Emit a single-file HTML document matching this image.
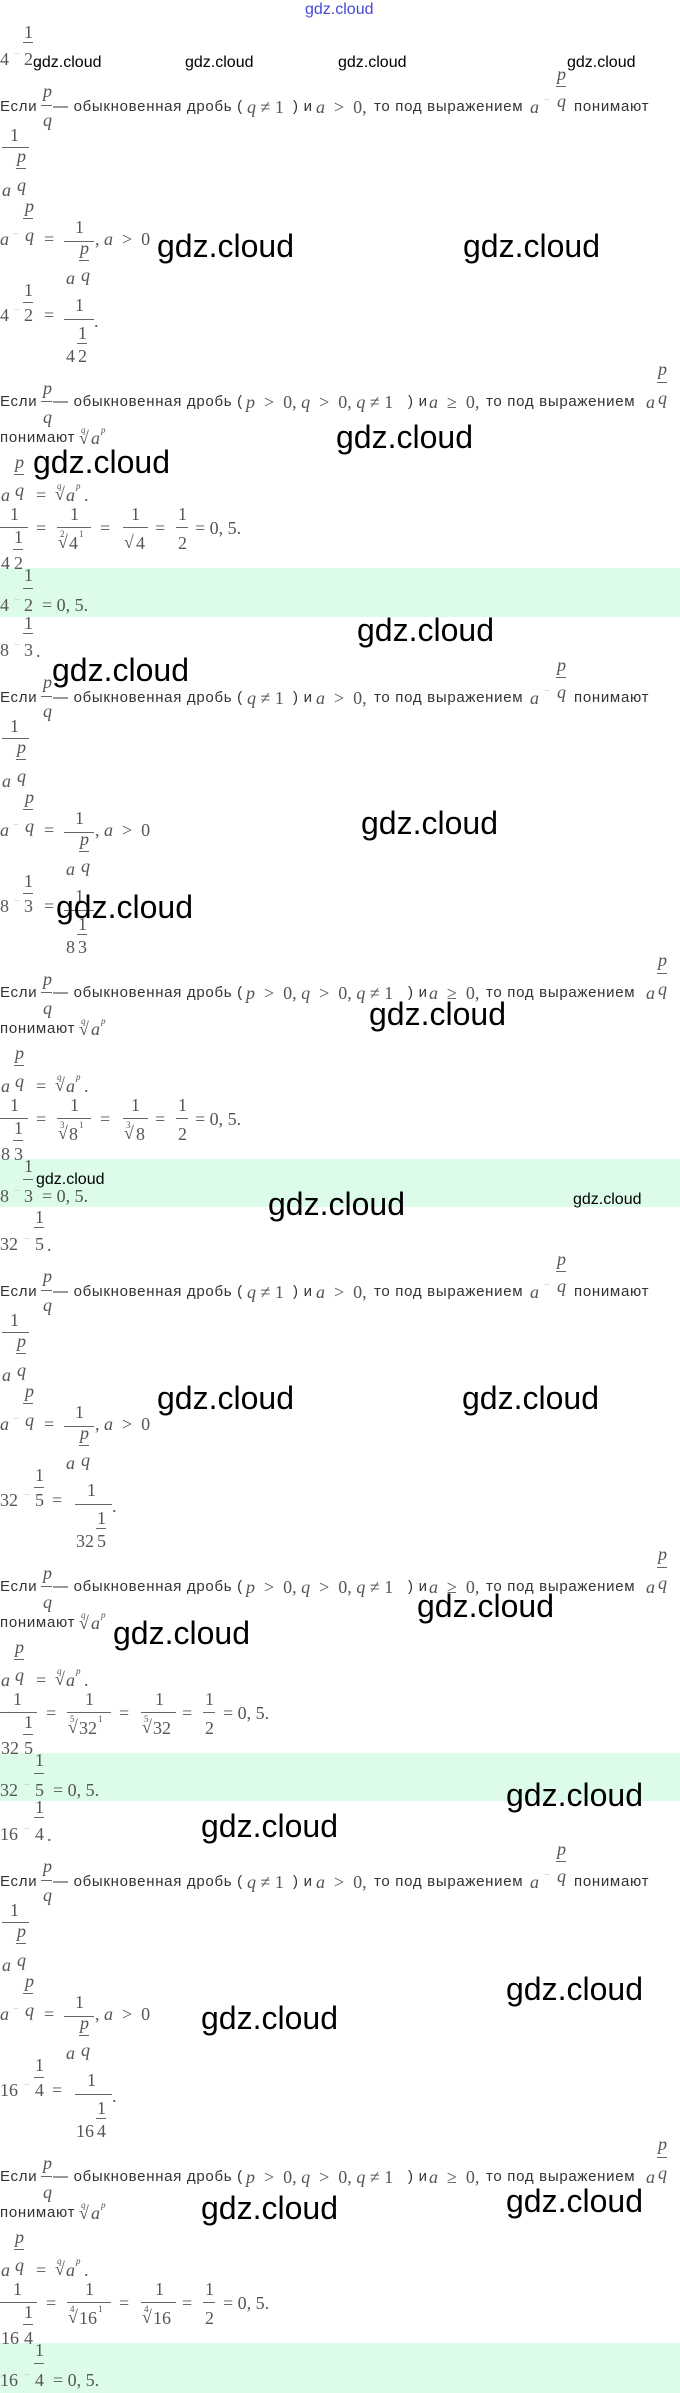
<!DOCTYPE html>
<html><head><meta charset="utf-8">
<style>
html,body{margin:0;padding:0;background:#fff}
body{width:680px;height:2393px;position:relative;overflow:hidden}
.b{position:absolute;left:0;width:680px;height:0}
.m{position:absolute;font:18px/18px "Liberation Serif",serif;color:#555;white-space:nowrap}
.i{font-style:italic}
.mn{font-size:10px;color:#bbb}
.x{font-size:9px;line-height:9px}
.t{position:absolute;font:15px/16px "Liberation Sans",sans-serif;letter-spacing:0.7px;color:#333;white-space:nowrap}
.h{position:absolute;height:1px;background:#666;display:block}
.g{position:absolute;left:0;width:680px;background:#dcfbe8}
.w{position:absolute;font:32px/32px "Liberation Sans",sans-serif;color:#000;white-space:nowrap}
.ws{position:absolute;font:16px/16px "Liberation Sans",sans-serif;color:#000;white-space:nowrap}
</style></head><body>

<!-- BLOCK 1 -->
<div class="b" style="top:568px">
<div class="g" style="top:0;height:49px"></div>
<span class="m" style="left:0;top:-518px">4</span><span class="m mn" style="left:14px;top:-522px">−</span><span class="m" style="left:24px;top:-545px">1</span><i class="h" style="left:23px;width:10px;top:-526px"></i><span class="m" style="left:24px;top:-518px">2</span><span class="m" style="left:36px;top:-517px">.</span>
<span class="t" style="left:0;top:-469px">Если</span><span class="m i" style="left:43px;top:-486px">p</span><i class="h" style="left:41px;width:11px;top:-463px"></i><span class="m i" style="left:43px;top:-457px">q</span><span class="t" style="left:53px;top:-469px">— обыкновенная дробь (</span><span class="m" style="left:247px;top:-470px"><i>q</i> ≠ 1</span><span class="t" style="left:293px;top:-469px">) и</span><span class="m" style="left:316px;top:-470px"><i>a</i> &nbsp;&gt; &nbsp;0,</span><span class="t" style="left:374px;top:-469px">то под выражением</span><span class="m i" style="left:530px;top:-470px">a</span><span class="m mn" style="left:544px;top:-476px">−</span><span class="m i" style="left:557px;top:-503px">p</span><i class="h" style="left:556px;width:10px;top:-482px"></i><span class="m i" style="left:557px;top:-476px">q</span><span class="t" style="left:574px;top:-469px">понимают</span>
<span class="m" style="left:10px;top:-442px">1</span><i class="h" style="left:2px;width:27px;top:-421px"></i><span class="m i" style="left:17px;top:-421px">p</span><i class="h" style="left:16px;width:10px;top:-400px"></i><span class="m i" style="left:2px;top:-387px">a</span><span class="m i" style="left:17px;top:-392px">q</span>
<span class="m i" style="left:25px;top:-371px">p</span><i class="h" style="left:23px;width:10px;top:-350px"></i><span class="m i" style="left:0;top:-338px">a</span><span class="m mn" style="left:13px;top:-342px">−</span><span class="m i" style="left:25px;top:-342px">q</span><span class="m" style="left:44px;top:-338px">=</span><span class="m" style="left:75px;top:-350px">1</span><i class="h" style="left:64px;width:30px;top:-327px"></i><span class="m i" style="left:80px;top:-329px">p</span><i class="h" style="left:79px;width:10px;top:-308px"></i><span class="m i" style="left:66px;top:-299px">a</span><span class="m i" style="left:81px;top:-302px">q</span><span class="m" style="left:95px;top:-338px">, <i>a</i> &nbsp;&gt; &nbsp;0</span>
<span class="m" style="left:0;top:-262px">4</span><span class="m mn" style="left:14px;top:-266px">−</span><span class="m" style="left:24px;top:-287px">1</span><i class="h" style="left:23px;width:10px;top:-266px"></i><span class="m" style="left:24px;top:-262px">2</span><span class="m" style="left:44px;top:-262px">=</span><span class="m" style="left:75px;top:-272px">1</span><i class="h" style="left:64px;width:30px;top:-249px"></i><span class="m" style="left:78px;top:-244px">1</span><i class="h" style="left:77px;width:10px;top:-225px"></i><span class="m" style="left:66px;top:-221px">4</span><span class="m" style="left:78px;top:-221px">2</span><span class="m" style="left:94px;top:-256px">.</span>
<span class="t" style="left:0;top:-174px">Если</span><span class="m i" style="left:43px;top:-189px">p</span><i class="h" style="left:41px;width:11px;top:-167px"></i><span class="m i" style="left:43px;top:-160px">q</span><span class="t" style="left:53px;top:-174px">— обыкновенная дробь (</span><span class="m" style="left:246px;top:-175px"><i>p</i> &nbsp;&gt; &nbsp;0, <i>q</i> &nbsp;&gt; &nbsp;0, <i>q</i> ≠ 1</span><span class="t" style="left:408px;top:-174px">) и</span><span class="m" style="left:429px;top:-175px"><i>a</i> &nbsp;≥ &nbsp;0,</span><span class="t" style="left:486px;top:-174px">то под выражением</span><span class="m i" style="left:646px;top:-175px">a</span><span class="m i" style="left:658px;top:-208px">p</span><i class="h" style="left:657px;width:10px;top:-186px"></i><span class="m i" style="left:658px;top:-179px">q</span>
<span class="t" style="left:0;top:-138px">понимают</span><span class="m" style="left:79px;top:-139px">√</span><span class="m i x" style="left:81px;top:-142px">q</span><span class="m i" style="left:91px;top:-139px">a</span><span class="m i x" style="left:101px;top:-142px">p</span>
<span class="m i" style="left:15px;top:-115px">p</span><i class="h" style="left:14px;width:10px;top:-94px"></i><span class="m i" style="left:1px;top:-82px">a</span><span class="m i" style="left:15px;top:-87px">q</span><span class="m" style="left:36px;top:-82px">=</span><span class="m" style="left:55px;top:-83px">√</span><span class="m i x" style="left:57px;top:-86px">q</span><span class="m i" style="left:66px;top:-82px">a</span><span class="m i x" style="left:76px;top:-86px">p</span><span class="m" style="left:84px;top:-82px">.</span>
<span class="m" style="left:10px;top:-63px">1</span><i class="h" style="left:0;width:28px;top:-41px"></i><span class="m" style="left:14px;top:-40px">1</span><i class="h" style="left:13px;width:10px;top:-19px"></i><span class="m" style="left:1px;top:-14px">4</span><span class="m" style="left:14px;top:-14px">2</span>
<span class="m" style="left:36px;top:-49px">=</span>
<span class="m" style="left:70px;top:-63px">1</span><i class="h" style="left:57px;width:34px;top:-41px"></i><span class="m" style="left:58px;top:-35px">√</span><span class="m x" style="left:60px;top:-38px">2</span><span class="m" style="left:69px;top:-34px">4</span><span class="m x" style="left:79px;top:-38px">1</span>
<span class="m" style="left:100px;top:-49px">=</span>
<span class="m" style="left:131px;top:-63px">1</span><i class="h" style="left:123px;width:25px;top:-41px"></i><span class="m" style="left:124px;top:-35px">√</span><span class="m" style="left:136px;top:-34px">4</span>
<span class="m" style="left:155px;top:-49px">=</span>
<span class="m" style="left:178px;top:-63px">1</span><i class="h" style="left:176px;width:12px;top:-41px"></i><span class="m" style="left:178px;top:-34px">2</span>
<span class="m" style="left:195px;top:-49px">= 0, 5.</span>
<span class="m" style="left:24px;top:-2px">1</span><span class="m mn" style="left:14px;top:24px">−</span><i class="h" style="left:23px;width:10px;top:20px"></i><span class="m" style="left:0;top:28px">4</span><span class="m" style="left:24px;top:28px">2</span><span class="m" style="left:42px;top:28px">= 0, 5.</span>
</div>

<!-- BLOCK 2 -->
<div class="b" style="top:1159px">
<div class="g" style="top:0;height:48px"></div>
<span class="m" style="left:0;top:-518px">8</span><span class="m mn" style="left:14px;top:-522px">−</span><span class="m" style="left:24px;top:-545px">1</span><i class="h" style="left:23px;width:10px;top:-526px"></i><span class="m" style="left:24px;top:-518px">3</span><span class="m" style="left:36px;top:-517px">.</span>
<span class="t" style="left:0;top:-469px">Если</span><span class="m i" style="left:43px;top:-486px">p</span><i class="h" style="left:41px;width:11px;top:-463px"></i><span class="m i" style="left:43px;top:-457px">q</span><span class="t" style="left:53px;top:-469px">— обыкновенная дробь (</span><span class="m" style="left:247px;top:-470px"><i>q</i> ≠ 1</span><span class="t" style="left:293px;top:-469px">) и</span><span class="m" style="left:316px;top:-470px"><i>a</i> &nbsp;&gt; &nbsp;0,</span><span class="t" style="left:374px;top:-469px">то под выражением</span><span class="m i" style="left:530px;top:-470px">a</span><span class="m mn" style="left:544px;top:-476px">−</span><span class="m i" style="left:557px;top:-503px">p</span><i class="h" style="left:556px;width:10px;top:-482px"></i><span class="m i" style="left:557px;top:-476px">q</span><span class="t" style="left:574px;top:-469px">понимают</span>
<span class="m" style="left:10px;top:-442px">1</span><i class="h" style="left:2px;width:27px;top:-421px"></i><span class="m i" style="left:17px;top:-421px">p</span><i class="h" style="left:16px;width:10px;top:-400px"></i><span class="m i" style="left:2px;top:-387px">a</span><span class="m i" style="left:17px;top:-392px">q</span>
<span class="m i" style="left:25px;top:-371px">p</span><i class="h" style="left:23px;width:10px;top:-350px"></i><span class="m i" style="left:0;top:-338px">a</span><span class="m mn" style="left:13px;top:-342px">−</span><span class="m i" style="left:25px;top:-342px">q</span><span class="m" style="left:44px;top:-338px">=</span><span class="m" style="left:75px;top:-350px">1</span><i class="h" style="left:64px;width:30px;top:-327px"></i><span class="m i" style="left:80px;top:-329px">p</span><i class="h" style="left:79px;width:10px;top:-308px"></i><span class="m i" style="left:66px;top:-299px">a</span><span class="m i" style="left:81px;top:-302px">q</span><span class="m" style="left:95px;top:-338px">, <i>a</i> &nbsp;&gt; &nbsp;0</span>
<span class="m" style="left:0;top:-262px">8</span><span class="m mn" style="left:14px;top:-266px">−</span><span class="m" style="left:24px;top:-287px">1</span><i class="h" style="left:23px;width:10px;top:-266px"></i><span class="m" style="left:24px;top:-262px">3</span><span class="m" style="left:44px;top:-262px">=</span><span class="m" style="left:75px;top:-272px">1</span><i class="h" style="left:64px;width:30px;top:-249px"></i><span class="m" style="left:78px;top:-244px">1</span><i class="h" style="left:77px;width:10px;top:-225px"></i><span class="m" style="left:66px;top:-221px">8</span><span class="m" style="left:78px;top:-221px">3</span><span class="m" style="left:94px;top:-256px">.</span>
<span class="t" style="left:0;top:-174px">Если</span><span class="m i" style="left:43px;top:-189px">p</span><i class="h" style="left:41px;width:11px;top:-167px"></i><span class="m i" style="left:43px;top:-160px">q</span><span class="t" style="left:53px;top:-174px">— обыкновенная дробь (</span><span class="m" style="left:246px;top:-175px"><i>p</i> &nbsp;&gt; &nbsp;0, <i>q</i> &nbsp;&gt; &nbsp;0, <i>q</i> ≠ 1</span><span class="t" style="left:408px;top:-174px">) и</span><span class="m" style="left:429px;top:-175px"><i>a</i> &nbsp;≥ &nbsp;0,</span><span class="t" style="left:486px;top:-174px">то под выражением</span><span class="m i" style="left:646px;top:-175px">a</span><span class="m i" style="left:658px;top:-208px">p</span><i class="h" style="left:657px;width:10px;top:-186px"></i><span class="m i" style="left:658px;top:-179px">q</span>
<span class="t" style="left:0;top:-138px">понимают</span><span class="m" style="left:79px;top:-139px">√</span><span class="m i x" style="left:81px;top:-142px">q</span><span class="m i" style="left:91px;top:-139px">a</span><span class="m i x" style="left:101px;top:-142px">p</span>
<span class="m i" style="left:15px;top:-115px">p</span><i class="h" style="left:14px;width:10px;top:-94px"></i><span class="m i" style="left:1px;top:-82px">a</span><span class="m i" style="left:15px;top:-87px">q</span><span class="m" style="left:36px;top:-82px">=</span><span class="m" style="left:55px;top:-83px">√</span><span class="m i x" style="left:57px;top:-86px">q</span><span class="m i" style="left:66px;top:-82px">a</span><span class="m i x" style="left:76px;top:-86px">p</span><span class="m" style="left:84px;top:-82px">.</span>
<span class="m" style="left:10px;top:-63px">1</span><i class="h" style="left:0;width:28px;top:-41px"></i><span class="m" style="left:14px;top:-40px">1</span><i class="h" style="left:13px;width:10px;top:-19px"></i><span class="m" style="left:1px;top:-14px">8</span><span class="m" style="left:14px;top:-14px">3</span>
<span class="m" style="left:36px;top:-49px">=</span>
<span class="m" style="left:70px;top:-63px">1</span><i class="h" style="left:57px;width:34px;top:-41px"></i><span class="m" style="left:58px;top:-35px">√</span><span class="m x" style="left:60px;top:-38px">3</span><span class="m" style="left:69px;top:-34px">8</span><span class="m x" style="left:79px;top:-38px">1</span>
<span class="m" style="left:100px;top:-49px">=</span>
<span class="m" style="left:131px;top:-63px">1</span><i class="h" style="left:123px;width:25px;top:-41px"></i><span class="m" style="left:124px;top:-35px">√</span><span class="m x" style="left:126px;top:-38px">3</span><span class="m" style="left:136px;top:-34px">8</span>
<span class="m" style="left:155px;top:-49px">=</span>
<span class="m" style="left:178px;top:-63px">1</span><i class="h" style="left:176px;width:12px;top:-41px"></i><span class="m" style="left:178px;top:-34px">2</span>
<span class="m" style="left:195px;top:-49px">= 0, 5.</span>
<span class="m" style="left:24px;top:-2px">1</span><span class="m mn" style="left:14px;top:24px">−</span><i class="h" style="left:23px;width:10px;top:20px"></i><span class="m" style="left:0;top:28px">8</span><span class="m" style="left:24px;top:28px">3</span><span class="m" style="left:42px;top:28px">= 0, 5.</span>
</div>

<!-- BLOCK 3 -->
<div class="b" style="top:1753px">
<div class="g" style="top:0;height:48px"></div>
<span class="m" style="left:0;top:-518px">32</span><span class="m mn" style="left:24px;top:-522px">−</span><span class="m" style="left:35px;top:-545px">1</span><i class="h" style="left:34px;width:10px;top:-526px"></i><span class="m" style="left:35px;top:-518px">5</span><span class="m" style="left:47px;top:-517px">.</span>
<span class="t" style="left:0;top:-469px">Если</span><span class="m i" style="left:43px;top:-486px">p</span><i class="h" style="left:41px;width:11px;top:-463px"></i><span class="m i" style="left:43px;top:-457px">q</span><span class="t" style="left:53px;top:-469px">— обыкновенная дробь (</span><span class="m" style="left:247px;top:-470px"><i>q</i> ≠ 1</span><span class="t" style="left:293px;top:-469px">) и</span><span class="m" style="left:316px;top:-470px"><i>a</i> &nbsp;&gt; &nbsp;0,</span><span class="t" style="left:374px;top:-469px">то под выражением</span><span class="m i" style="left:530px;top:-470px">a</span><span class="m mn" style="left:544px;top:-476px">−</span><span class="m i" style="left:557px;top:-503px">p</span><i class="h" style="left:556px;width:10px;top:-482px"></i><span class="m i" style="left:557px;top:-476px">q</span><span class="t" style="left:574px;top:-469px">понимают</span>
<span class="m" style="left:10px;top:-442px">1</span><i class="h" style="left:2px;width:27px;top:-421px"></i><span class="m i" style="left:17px;top:-421px">p</span><i class="h" style="left:16px;width:10px;top:-400px"></i><span class="m i" style="left:2px;top:-387px">a</span><span class="m i" style="left:17px;top:-392px">q</span>
<span class="m i" style="left:25px;top:-371px">p</span><i class="h" style="left:23px;width:10px;top:-350px"></i><span class="m i" style="left:0;top:-338px">a</span><span class="m mn" style="left:13px;top:-342px">−</span><span class="m i" style="left:25px;top:-342px">q</span><span class="m" style="left:44px;top:-338px">=</span><span class="m" style="left:75px;top:-350px">1</span><i class="h" style="left:64px;width:30px;top:-327px"></i><span class="m i" style="left:80px;top:-329px">p</span><i class="h" style="left:79px;width:10px;top:-308px"></i><span class="m i" style="left:66px;top:-299px">a</span><span class="m i" style="left:81px;top:-302px">q</span><span class="m" style="left:95px;top:-338px">, <i>a</i> &nbsp;&gt; &nbsp;0</span>
<span class="m" style="left:0;top:-262px">32</span><span class="m mn" style="left:24px;top:-266px">−</span><span class="m" style="left:35px;top:-287px">1</span><i class="h" style="left:34px;width:10px;top:-266px"></i><span class="m" style="left:35px;top:-262px">5</span><span class="m" style="left:52px;top:-262px">=</span><span class="m" style="left:87px;top:-272px">1</span><i class="h" style="left:75px;width:37px;top:-249px"></i><span class="m" style="left:97px;top:-244px">1</span><i class="h" style="left:96px;width:10px;top:-225px"></i><span class="m" style="left:76px;top:-221px">32</span><span class="m" style="left:97px;top:-221px">5</span><span class="m" style="left:112px;top:-256px">.</span>
<span class="t" style="left:0;top:-174px">Если</span><span class="m i" style="left:43px;top:-189px">p</span><i class="h" style="left:41px;width:11px;top:-167px"></i><span class="m i" style="left:43px;top:-160px">q</span><span class="t" style="left:53px;top:-174px">— обыкновенная дробь (</span><span class="m" style="left:246px;top:-175px"><i>p</i> &nbsp;&gt; &nbsp;0, <i>q</i> &nbsp;&gt; &nbsp;0, <i>q</i> ≠ 1</span><span class="t" style="left:408px;top:-174px">) и</span><span class="m" style="left:429px;top:-175px"><i>a</i> &nbsp;≥ &nbsp;0,</span><span class="t" style="left:486px;top:-174px">то под выражением</span><span class="m i" style="left:646px;top:-175px">a</span><span class="m i" style="left:658px;top:-208px">p</span><i class="h" style="left:657px;width:10px;top:-186px"></i><span class="m i" style="left:658px;top:-179px">q</span>
<span class="t" style="left:0;top:-138px">понимают</span><span class="m" style="left:79px;top:-139px">√</span><span class="m i x" style="left:81px;top:-142px">q</span><span class="m i" style="left:91px;top:-139px">a</span><span class="m i x" style="left:101px;top:-142px">p</span>
<span class="m i" style="left:15px;top:-115px">p</span><i class="h" style="left:14px;width:10px;top:-94px"></i><span class="m i" style="left:1px;top:-82px">a</span><span class="m i" style="left:15px;top:-87px">q</span><span class="m" style="left:36px;top:-82px">=</span><span class="m" style="left:55px;top:-83px">√</span><span class="m i x" style="left:57px;top:-86px">q</span><span class="m i" style="left:66px;top:-82px">a</span><span class="m i x" style="left:76px;top:-86px">p</span><span class="m" style="left:84px;top:-82px">.</span>
<span class="m" style="left:13px;top:-63px">1</span><i class="h" style="left:0;width:37px;top:-41px"></i><span class="m" style="left:24px;top:-40px">1</span><i class="h" style="left:23px;width:10px;top:-19px"></i><span class="m" style="left:1px;top:-14px">32</span><span class="m" style="left:24px;top:-14px">5</span>
<span class="m" style="left:46px;top:-49px">=</span>
<span class="m" style="left:85px;top:-63px">1</span><i class="h" style="left:67px;width:44px;top:-41px"></i><span class="m" style="left:68px;top:-35px">√</span><span class="m x" style="left:70px;top:-38px">5</span><span class="m" style="left:79px;top:-34px">32</span><span class="m x" style="left:98px;top:-38px">1</span>
<span class="m" style="left:119px;top:-49px">=</span>
<span class="m" style="left:155px;top:-63px">1</span><i class="h" style="left:141px;width:35px;top:-41px"></i><span class="m" style="left:142px;top:-35px">√</span><span class="m x" style="left:144px;top:-38px">5</span><span class="m" style="left:153px;top:-34px">32</span>
<span class="m" style="left:182px;top:-49px">=</span>
<span class="m" style="left:205px;top:-63px">1</span><i class="h" style="left:203px;width:12px;top:-41px"></i><span class="m" style="left:205px;top:-34px">2</span>
<span class="m" style="left:223px;top:-49px">= 0, 5.</span>
<span class="m" style="left:35px;top:-2px">1</span><span class="m mn" style="left:24px;top:24px">−</span><i class="h" style="left:34px;width:10px;top:20px"></i><span class="m" style="left:0;top:28px">32</span><span class="m" style="left:35px;top:28px">5</span><span class="m" style="left:53px;top:28px">= 0, 5.</span>
</div>

<!-- BLOCK 4 -->
<div class="b" style="top:2343px">
<div class="g" style="top:0;height:50px"></div>
<span class="m" style="left:0;top:-518px">16</span><span class="m mn" style="left:24px;top:-522px">−</span><span class="m" style="left:35px;top:-545px">1</span><i class="h" style="left:34px;width:10px;top:-526px"></i><span class="m" style="left:35px;top:-518px">4</span><span class="m" style="left:47px;top:-517px">.</span>
<span class="t" style="left:0;top:-469px">Если</span><span class="m i" style="left:43px;top:-486px">p</span><i class="h" style="left:41px;width:11px;top:-463px"></i><span class="m i" style="left:43px;top:-457px">q</span><span class="t" style="left:53px;top:-469px">— обыкновенная дробь (</span><span class="m" style="left:247px;top:-470px"><i>q</i> ≠ 1</span><span class="t" style="left:293px;top:-469px">) и</span><span class="m" style="left:316px;top:-470px"><i>a</i> &nbsp;&gt; &nbsp;0,</span><span class="t" style="left:374px;top:-469px">то под выражением</span><span class="m i" style="left:530px;top:-470px">a</span><span class="m mn" style="left:544px;top:-476px">−</span><span class="m i" style="left:557px;top:-503px">p</span><i class="h" style="left:556px;width:10px;top:-482px"></i><span class="m i" style="left:557px;top:-476px">q</span><span class="t" style="left:574px;top:-469px">понимают</span>
<span class="m" style="left:10px;top:-442px">1</span><i class="h" style="left:2px;width:27px;top:-421px"></i><span class="m i" style="left:17px;top:-421px">p</span><i class="h" style="left:16px;width:10px;top:-400px"></i><span class="m i" style="left:2px;top:-387px">a</span><span class="m i" style="left:17px;top:-392px">q</span>
<span class="m i" style="left:25px;top:-371px">p</span><i class="h" style="left:23px;width:10px;top:-350px"></i><span class="m i" style="left:0;top:-338px">a</span><span class="m mn" style="left:13px;top:-342px">−</span><span class="m i" style="left:25px;top:-342px">q</span><span class="m" style="left:44px;top:-338px">=</span><span class="m" style="left:75px;top:-350px">1</span><i class="h" style="left:64px;width:30px;top:-327px"></i><span class="m i" style="left:80px;top:-329px">p</span><i class="h" style="left:79px;width:10px;top:-308px"></i><span class="m i" style="left:66px;top:-299px">a</span><span class="m i" style="left:81px;top:-302px">q</span><span class="m" style="left:95px;top:-338px">, <i>a</i> &nbsp;&gt; &nbsp;0</span>
<span class="m" style="left:0;top:-262px">16</span><span class="m mn" style="left:24px;top:-266px">−</span><span class="m" style="left:35px;top:-287px">1</span><i class="h" style="left:34px;width:10px;top:-266px"></i><span class="m" style="left:35px;top:-262px">4</span><span class="m" style="left:52px;top:-262px">=</span><span class="m" style="left:87px;top:-272px">1</span><i class="h" style="left:75px;width:37px;top:-249px"></i><span class="m" style="left:97px;top:-244px">1</span><i class="h" style="left:96px;width:10px;top:-225px"></i><span class="m" style="left:76px;top:-221px">16</span><span class="m" style="left:97px;top:-221px">4</span><span class="m" style="left:112px;top:-256px">.</span>
<span class="t" style="left:0;top:-174px">Если</span><span class="m i" style="left:43px;top:-189px">p</span><i class="h" style="left:41px;width:11px;top:-167px"></i><span class="m i" style="left:43px;top:-160px">q</span><span class="t" style="left:53px;top:-174px">— обыкновенная дробь (</span><span class="m" style="left:246px;top:-175px"><i>p</i> &nbsp;&gt; &nbsp;0, <i>q</i> &nbsp;&gt; &nbsp;0, <i>q</i> ≠ 1</span><span class="t" style="left:408px;top:-174px">) и</span><span class="m" style="left:429px;top:-175px"><i>a</i> &nbsp;≥ &nbsp;0,</span><span class="t" style="left:486px;top:-174px">то под выражением</span><span class="m i" style="left:646px;top:-175px">a</span><span class="m i" style="left:658px;top:-208px">p</span><i class="h" style="left:657px;width:10px;top:-186px"></i><span class="m i" style="left:658px;top:-179px">q</span>
<span class="t" style="left:0;top:-138px">понимают</span><span class="m" style="left:79px;top:-139px">√</span><span class="m i x" style="left:81px;top:-142px">q</span><span class="m i" style="left:91px;top:-139px">a</span><span class="m i x" style="left:101px;top:-142px">p</span>
<span class="m i" style="left:15px;top:-115px">p</span><i class="h" style="left:14px;width:10px;top:-94px"></i><span class="m i" style="left:1px;top:-82px">a</span><span class="m i" style="left:15px;top:-87px">q</span><span class="m" style="left:36px;top:-82px">=</span><span class="m" style="left:55px;top:-83px">√</span><span class="m i x" style="left:57px;top:-86px">q</span><span class="m i" style="left:66px;top:-82px">a</span><span class="m i x" style="left:76px;top:-86px">p</span><span class="m" style="left:84px;top:-82px">.</span>
<span class="m" style="left:13px;top:-63px">1</span><i class="h" style="left:0;width:37px;top:-41px"></i><span class="m" style="left:24px;top:-40px">1</span><i class="h" style="left:23px;width:10px;top:-19px"></i><span class="m" style="left:1px;top:-14px">16</span><span class="m" style="left:24px;top:-14px">4</span>
<span class="m" style="left:46px;top:-49px">=</span>
<span class="m" style="left:85px;top:-63px">1</span><i class="h" style="left:67px;width:44px;top:-41px"></i><span class="m" style="left:68px;top:-35px">√</span><span class="m x" style="left:70px;top:-38px">4</span><span class="m" style="left:79px;top:-34px">16</span><span class="m x" style="left:98px;top:-38px">1</span>
<span class="m" style="left:119px;top:-49px">=</span>
<span class="m" style="left:155px;top:-63px">1</span><i class="h" style="left:141px;width:35px;top:-41px"></i><span class="m" style="left:142px;top:-35px">√</span><span class="m x" style="left:144px;top:-38px">4</span><span class="m" style="left:153px;top:-34px">16</span>
<span class="m" style="left:182px;top:-49px">=</span>
<span class="m" style="left:205px;top:-63px">1</span><i class="h" style="left:203px;width:12px;top:-41px"></i><span class="m" style="left:205px;top:-34px">2</span>
<span class="m" style="left:223px;top:-49px">= 0, 5.</span>
<span class="m" style="left:35px;top:-2px">1</span><span class="m mn" style="left:24px;top:24px">−</span><i class="h" style="left:34px;width:10px;top:20px"></i><span class="m" style="left:0;top:28px">16</span><span class="m" style="left:35px;top:28px">4</span><span class="m" style="left:53px;top:28px">= 0, 5.</span>
</div>

<!-- watermarks -->
<span class="ws" style="left:305px;top:2px;color:#4848d8">gdz.cloud</span>
<span class="ws" style="left:33px;top:55px">gdz.cloud</span>
<span class="ws" style="left:185px;top:55px">gdz.cloud</span>
<span class="ws" style="left:338px;top:55px">gdz.cloud</span>
<span class="ws" style="left:567px;top:55px">gdz.cloud</span>
<span class="ws" style="left:36px;top:1172px">gdz.cloud</span>
<span class="ws" style="left:573px;top:1192px">gdz.cloud</span>
<span class="w" style="left:157px;top:230px">gdz.cloud</span>
<span class="w" style="left:463px;top:230px">gdz.cloud</span>
<span class="w" style="left:336px;top:421px">gdz.cloud</span>
<span class="w" style="left:33px;top:446px">gdz.cloud</span>
<span class="w" style="left:357px;top:614px">gdz.cloud</span>
<span class="w" style="left:52px;top:654px">gdz.cloud</span>
<span class="w" style="left:361px;top:807px">gdz.cloud</span>
<span class="w" style="left:56px;top:891px">gdz.cloud</span>
<span class="w" style="left:369px;top:998px">gdz.cloud</span>
<span class="w" style="left:268px;top:1188px">gdz.cloud</span>
<span class="w" style="left:157px;top:1382px">gdz.cloud</span>
<span class="w" style="left:462px;top:1382px">gdz.cloud</span>
<span class="w" style="left:417px;top:1590px">gdz.cloud</span>
<span class="w" style="left:113px;top:1617px">gdz.cloud</span>
<span class="w" style="left:506px;top:1779px">gdz.cloud</span>
<span class="w" style="left:201px;top:1810px">gdz.cloud</span>
<span class="w" style="left:506px;top:1973px">gdz.cloud</span>
<span class="w" style="left:201px;top:2002px">gdz.cloud</span>
<span class="w" style="left:506px;top:2185px">gdz.cloud</span>
<span class="w" style="left:201px;top:2192px">gdz.cloud</span>
</body></html>
